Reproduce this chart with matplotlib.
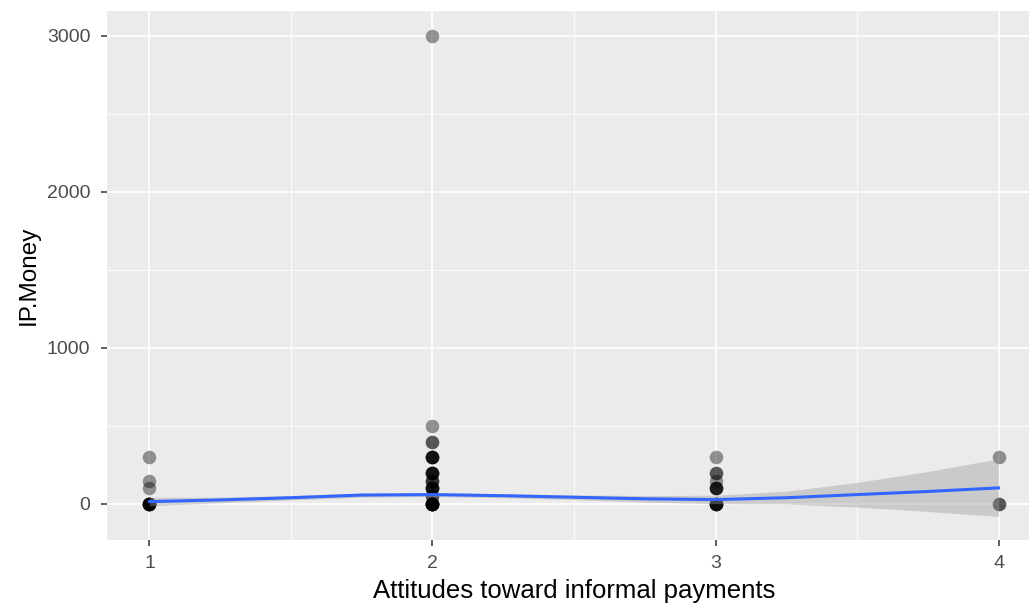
import numpy as np
import matplotlib.pyplot as plt

plt.rcParams['font.family'] = ['Liberation Sans', 'DejaVu Sans']

# observed points (attitude score, money), repeated values drawn on top of each other
att_1 = [1] * 11
money_1 = [0] * 8 + [100, 150, 300]
att_2 = [2] * 34
money_2 = [0] * 10 + [50] * 2 + [100] * 5 + [150] * 3 + [200] * 5 + [300] * 5 + [400] * 2 + [500] + [3000]
att_3 = [3] * 14
money_3 = [0] * 6 + [100] * 4 + [150] + [200] * 2 + [300]
att_4 = [4] * 3
money_4 = [0, 0, 300]

# loess smooth and its confidence band
smooth_x = [1.0, 1.25, 1.5, 1.75, 2.0, 2.25, 2.5, 2.75, 3.0, 3.25, 3.5, 3.75, 4.0]
smooth_y = [15, 26, 40, 57, 60, 53, 43, 33, 28, 40, 60, 80, 103]
smooth_lo = [-12, 8, 26, 44, 48, 40, 28, 12, 2, 0, -20, -48, -80]
smooth_hi = [42, 44, 54, 70, 72, 66, 58, 54, 56, 82, 138, 208, 290]

x_ticks = [1, 2, 3, 4]
y_ticks = [0, 1000, 2000, 3000]


def main():
    fig = plt.figure(figsize=(10.29, 6.07), dpi=100)
    W, H = 1029, 607
    # panel spans x 107 -> 1041 px (runs past the right edge), y 11 -> 540 px
    ax = fig.add_axes([107 / W, (H - 540) / H, 934 / W, 529 / H])
    ax.set_facecolor('#ebebeb')
    for s in ax.spines.values():
        s.set_visible(False)

    ax.set_xlim(0.85, 4.15)
    ax.set_ylim(-231, 3160)

    # grid
    for v in [1.5, 2.5, 3.5]:
        ax.axvline(v, color='white', lw=0.6, zorder=0)
    for v in [500, 1500, 2500]:
        ax.axhline(v, color='white', lw=0.6, zorder=0)
    for v in x_ticks:
        ax.axvline(v, color='white', lw=1.2, zorder=0)
    for v in y_ticks:
        ax.axhline(v, color='white', lw=1.2, zorder=0)

    xs = att_1 + att_2 + att_3 + att_4
    ys = money_1 + money_2 + money_3 + money_4
    ax.scatter(xs, ys, s=95, color='black', alpha=0.4, linewidths=0, zorder=2)

    ax.fill_between(smooth_x, smooth_lo, smooth_hi, color='#999999', alpha=0.4,
                    linewidth=0, zorder=3)
    ax.plot(smooth_x, smooth_y, color='#3366FF', lw=2.2, zorder=4)

    ax.set_xticks(x_ticks)
    ax.set_yticks(y_ticks)
    ax.tick_params(colors='#333333', labelcolor='#4d4d4d', labelsize=14,
                   length=4.5, width=1.1)
    ax.tick_params(axis='x', pad=6)
    ax.tick_params(axis='y', pad=7.5)
    ax.set_xlabel('Attitudes toward informal payments', fontsize=18.5, color='black', labelpad=5)
    ax.set_ylabel('IP.Money', fontsize=17.5, color='black', labelpad=5)

    fig.savefig('out.png', dpi=100)


if __name__ == "__main__":
    main()
